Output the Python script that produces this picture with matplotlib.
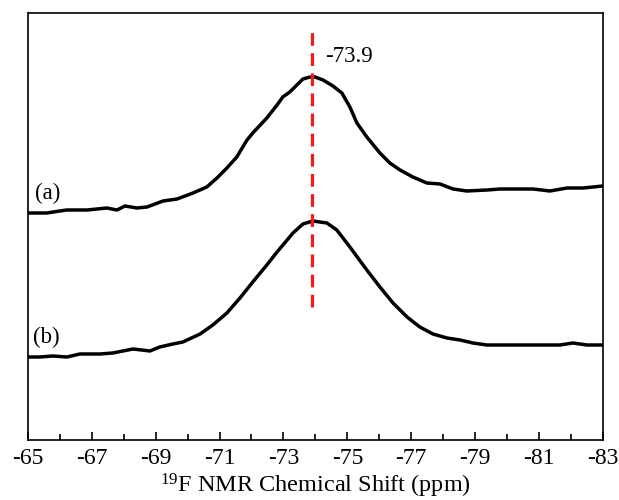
import matplotlib.pyplot as plt

# 19F NMR spectra, intensity in arbitrary units (offset traces)
ppm_a = [-65.00, -65.59, -66.00, -66.22, -66.85, -67.47, -67.79, -68.04, -68.41, -68.73,
         -69.23, -69.67, -70.17, -70.60, -70.92, -71.23, -71.54, -71.86, -72.04, -72.48,
         -72.80, -72.98, -73.20, -73.42, -73.61, -73.83, -73.99, -74.24, -74.55, -74.83,
         -75.08, -75.30, -75.61, -76.02, -76.33, -76.65, -77.05, -77.49, -77.90, -78.31,
         -78.74, -79.37, -79.78, -80.18, -80.81, -81.34, -81.88, -82.38, -83.00]
int_a = [227, 227, 229, 230, 230, 232, 230, 234, 232, 233,
         239, 241, 247, 253, 262, 272, 283, 300, 307, 322,
         335, 343, 348, 355, 361, 363, 363, 360, 354, 347,
         333, 317, 303, 287, 277, 270, 263, 257, 256, 251,
         249, 250, 251, 251, 251, 249, 252, 252, 254]

ppm_b = [-65.00, -65.38, -65.78, -66.22, -66.63, -67.25, -67.66, -68.29, -68.82, -69.13,
         -69.54, -69.85, -70.39, -70.79, -71.23, -71.64, -72.04, -72.48, -72.80, -73.30,
         -73.61, -73.92, -74.36, -74.67, -75.08, -75.61, -76.02, -76.43, -76.87, -77.27,
         -77.68, -78.12, -78.53, -78.93, -79.37, -80.31, -80.81, -81.66, -82.06, -82.50,
         -83.00]
int_b = [83, 83, 84, 83, 86, 86, 87, 91, 89, 93,
         96, 98, 106, 115, 127, 142, 158, 175, 188, 207,
         216, 219, 217, 210, 193, 170, 153, 137, 123, 113,
         106, 102, 100, 97, 95, 95, 95, 95, 97, 95,
         95]

peak_ppm = -73.9
peak_span = [133, 412]
major_ticks = [-65, -67, -69, -71, -73, -75, -77, -79, -81, -83]
minor_ticks = [-66, -68, -70, -72, -74, -76, -78, -80, -82]

plt.rcParams['font.family'] = 'Liberation Serif'
plt.rcParams['mathtext.fontset'] = 'custom'
plt.rcParams['mathtext.rm'] = 'Liberation Serif'

fig = plt.figure(figsize=(6.19, 5.0), dpi=100)
ax = fig.add_axes([0.045, 0.12, 0.929, 0.854])

ax.plot(ppm_a, int_a, color='black', lw=2.5, solid_joinstyle='round')
ax.plot(ppm_b, int_b, color='black', lw=2.5, solid_joinstyle='round')
ax.plot([peak_ppm, peak_ppm], peak_span, color='#f51a1a', lw=2.3, dashes=(4, 2.3))

ax.text(-65.63, 247, '(a)', fontsize=16.5, ha='center', va='center')
ax.text(-65.59, 103, '(b)', fontsize=16.5, ha='center', va='center')
ax.text(-74.30, 383, '-73.9', fontsize=16.5, ha='left', va='center')

ax.set_xlim(-65, -83)
ax.set_ylim(0, 427)
ax.set_xticks(major_ticks)
ax.set_xticklabels([str(t) for t in major_ticks])
ax.set_xticks(minor_ticks, minor=True)
ax.set_yticks([])
ax.tick_params(axis='x', which='major', direction='in', length=6, width=1.2, labelsize=17, pad=6)
ax.tick_params(axis='x', which='minor', direction='in', length=4, width=1.2)
for s in ax.spines.values():
    s.set_linewidth(1.2)

ax.set_xlabel(r'$\mathregular{^{19}}$F NMR Chemical Shift (ppm)', fontsize=17.5, labelpad=1.5)

fig.savefig('out.png', dpi=100)
